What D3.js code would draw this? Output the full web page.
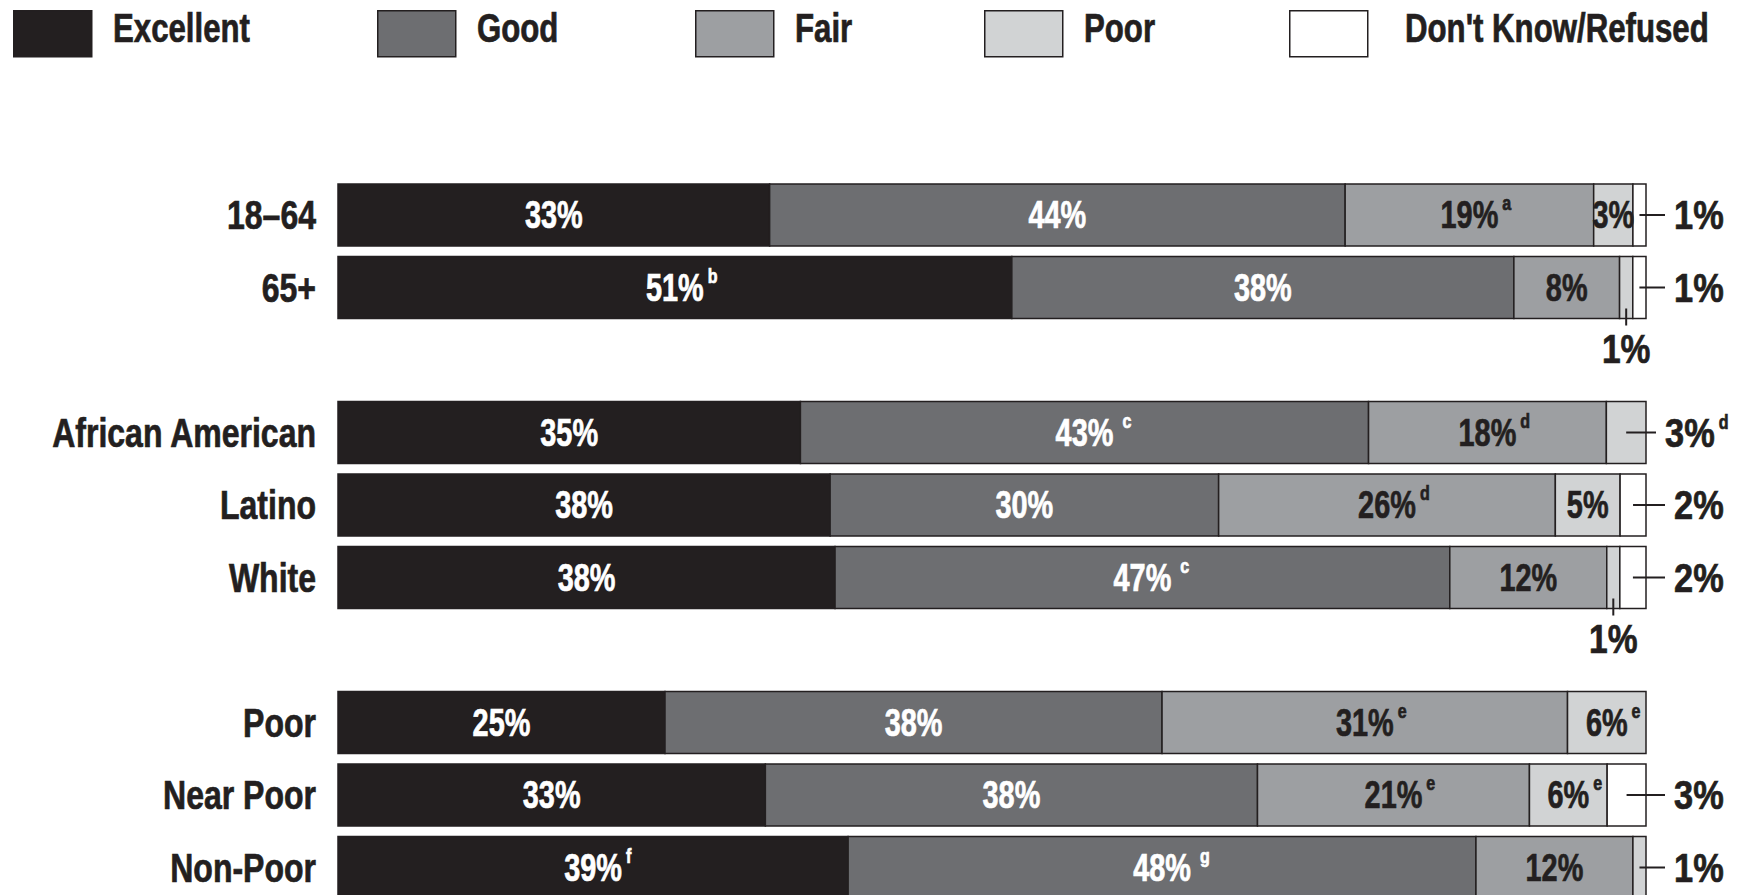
<!DOCTYPE html>
<html>
<head>
<meta charset="utf-8">
<script src="https://cdnjs.cloudflare.com/ajax/libs/d3/7.8.5/d3.min.js"></script>
<style>
  body { margin: 0; background: #fff; }
  text { font-family: "Liberation Sans", Arial, sans-serif; font-weight: bold; }
</style>
</head>
<body>
<svg id="chart"></svg>
<script>
let width = 1739
let height = 895

// data
const categories = ["18–64", "65+", "African American", "Latino", "White", "Poor", "Near Poor", "Non-Poor"]
const groups = [0, 0, 1, 1, 1, 2, 2, 2]
const keys = ["Excellent", "Good", "Fair", "Poor", "Don't Know/Refused"]
const excellent = [33, 51, 35, 38, 38, 25, 33, 39]
const good = [44, 38, 43, 30, 47, 38, 38, 48]
const fair = [19, 8, 18, 26, 12, 31, 21, 12]
const poor = [3, 1, 3, 5, 1, 6, 6, 1]
const dontKnow = [1, 1, 0, 2, 2, 0, 3, 0]
// footnote letters shown after the value
const excellentNotes = ["", "b", "", "", "", "", "", "f"]
const goodNotes = ["", "", "c", "", "c", "", "", "g"]
const fairNotes = ["a", "", "d", "d", "", "e", "e", ""]
const poorNotes = ["", "", "d", "", "", "e", "e", ""]
const dontKnowNotes = ["", "", "", "", "", "", "", ""]
// values labelled outside the bar
const outsideLabels = [
  {row: "18–64", key: "Don't Know/Refused", side: "right"},
  {row: "65+", key: "Don't Know/Refused", side: "right"},
  {row: "65+", key: "Poor", side: "below"},
  {row: "African American", key: "Poor", side: "right"},
  {row: "Latino", key: "Don't Know/Refused", side: "right"},
  {row: "White", key: "Don't Know/Refused", side: "right"},
  {row: "White", key: "Poor", side: "below"},
  {row: "Near Poor", key: "Don't Know/Refused", side: "right"},
  {row: "Non-Poor", key: "Poor", side: "right"}
]

const series = [excellent, good, fair, poor, dontKnow]
const notes = [excellentNotes, goodNotes, fairNotes, poorNotes, dontKnowNotes]
const colors = ["#231f20", "#6d6e71", "#9d9fa2", "#d1d3d4", "#ffffff"]
const textColors = ["#ffffff", "#ffffff", "#231f20", "#231f20", "#231f20"]
const ink = "#231f20"

let rows = categories.map((c, i) => {
  let r = {category: c, group: groups[i]}
  keys.forEach((k, j) => { r[k] = series[j][i] })
  return r
})

// slots: rows plus one spacer between groups
let slots = []
rows.forEach((r, i) => {
  if (i > 0 && r.group !== rows[i - 1].group) slots.push("gap" + r.group)
  slots.push(r.category)
})

let svg = d3.select("#chart").attr("width", width).attr("height", height)

let step = 72.5
let xScale = d3.scaleLinear().domain([0, 1]).range([338, 1646])
let yScale = d3.scaleBand().domain(slots)
    .range([184, 184 + step * (slots.length - 0.1448)])
    .paddingInner(0.1448).paddingOuter(0)
let cScale = d3.scaleOrdinal().domain(keys).range(colors)
let tScale = d3.scaleOrdinal().domain(keys).range(textColors)

let stacked = d3.stack().keys(keys).offset(d3.stackOffsetExpand)(rows)

// condensed heavy text: squeeze a regular bold face horizontally
function addText(g, x, y, str, size, sx, anchor, fill) {
  return g.append("text")
      .attr("transform", "translate(" + x + "," + y + ") scale(" + sx + ",1)")
      .attr("text-anchor", anchor)
      .style("font-size", size + "px")
      .attr("fill", fill)
      .attr("stroke", fill)
      .attr("stroke-width", 0.7)
      .text(str)
}

// legend
let legendX = [13, 377, 695, 984, 1289]
let legendTextX = [113, 477, 795, 1084, 1405]
let legend = svg.append("g")
keys.forEach((k, i) => {
  legend.append("rect")
      .attr("x", legendX[i] + 0.75).attr("y", 10.75)
      .attr("width", 78).attr("height", 46)
      .attr("fill", cScale(k))
      .attr("stroke", ink)
      .attr("stroke-width", 1.5)
  addText(legend, legendTextX[i], 42, k, 40, 0.78, "start", ink)
})

// category labels
let catG = svg.append("g")
rows.forEach(d => {
  addText(catG, 316, yScale(d.category) + yScale.bandwidth() / 2 + 14, d.category, 40, 0.8, "end", ink)
})

// segments
let layers = svg.append("g").selectAll("g")
    .data(stacked)
    .enter()
    .append("g")
    .attr("fill", d => cScale(d.key))

layers.selectAll("rect")
    .data(d => d.filter(s => s[1] - s[0] > 0))
    .enter()
    .append("rect")
    .attr("x", d => xScale(d[0]))
    .attr("y", d => yScale(d.data.category))
    .attr("width", d => xScale(d[1]) - xScale(d[0]))
    .attr("height", yScale.bandwidth())
    .attr("stroke", ink)
    .attr("stroke-width", 1.5)

// value labels
let labels = []
stacked.forEach((layer, j) => {
  layer.forEach((s, i) => {
    let value = series[j][i]
    if (value <= 0) return
    let out = outsideLabels.find(o => o.row === categories[i] && o.key === layer.key)
    labels.push({
      key: layer.key, value: value, note: notes[j][i],
      cx: (xScale(s[0]) + xScale(s[1])) / 2,
      top: yScale(categories[i]),
      mid: yScale(categories[i]) + yScale.bandwidth() / 2,
      side: out ? out.side : "inside"
    })
  })
})

let labelG = svg.append("g")

labels.forEach(d => {
  let lx, ly, anchor, size, sx, fill
  if (d.side === "inside") {
    lx = d.cx; ly = d.mid + 13; anchor = "middle"; size = 38; sx = 0.76; fill = tScale(d.key)
  } else if (d.side === "right") {
    let end = xScale(1) + (d.note ? 10 : 19)
    labelG.append("line")
        .attr("x1", d.cx).attr("x2", end)
        .attr("y1", d.mid).attr("y2", d.mid)
        .attr("stroke", ink).attr("stroke-width", 2)
    lx = end + 9; ly = d.mid + 14; anchor = "start"; size = 40; sx = 0.86; fill = ink
  } else {
    let bottom = d.top + yScale.bandwidth()
    labelG.append("line")
        .attr("x1", d.cx).attr("x2", d.cx)
        .attr("y1", bottom - 10).attr("y2", bottom + 7)
        .attr("stroke", ink).attr("stroke-width", 2)
    lx = d.cx; ly = bottom + 44; anchor = "middle"; size = 40; sx = 0.84; fill = ink
  }
  let t = addText(labelG, lx, ly, d.value + "%", size, sx, anchor, fill)
  if (d.note) {
    let w = t.node().getComputedTextLength() * sx
    let right = anchor === "middle" ? lx + w / 2 : lx + w
    let gap = d.key === "Good" ? 9 : 4
    addText(labelG, right + gap, ly - 18, d.note, 20, 0.8, "start", fill)
  }
})
</script>
</body>
</html>
